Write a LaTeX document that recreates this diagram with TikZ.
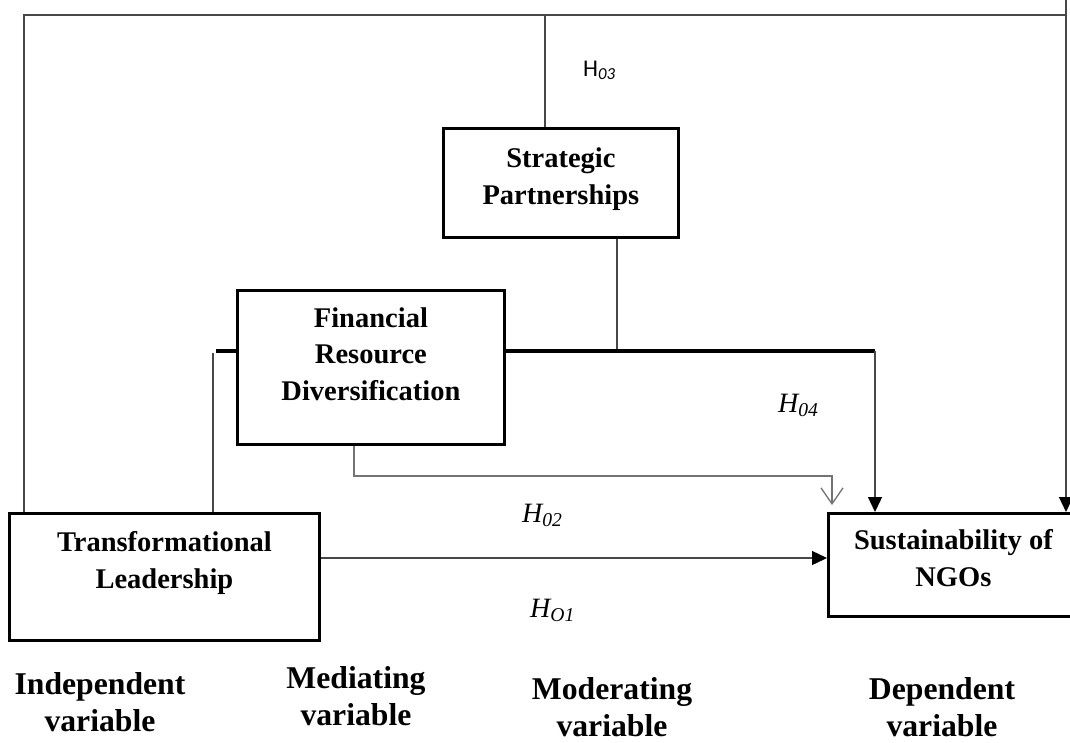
\documentclass[tikz,border=0pt]{standalone}
\usepackage{fontspec}
\setmainfont{Liberation Serif}
\newfontfamily\carlitofont{Carlito}
\usetikzlibrary{arrows.meta}
\tikzset{
  box/.style={draw=black, line width=2.8pt, inner sep=0pt, align=center, anchor=north west,
    font=\fontsize{28.5}{36.5}\selectfont\bfseries, text depth=10pt},
  thinline/.style={draw=black!72, line width=1.3pt},
  greyline/.style={draw=black!55, line width=1.3pt},
  thickline/.style={draw=black, line width=4pt},
  arr/.style={-{Triangle[length=15pt,width=14pt,color=black]}},
  openarr/.style={-{Straight Barb[length=16pt,width=22pt,line width=1.3pt]}},
  hlab/.style={anchor=base west, inner sep=0pt, font=\fontsize{28}{30}\selectfont\itshape},
  varlab/.style={anchor=base, inner sep=0pt, align=center, font=\fontsize{31.7}{36.5}\selectfont\bfseries}
}
\begin{document}
\begin{tikzpicture}[x=1pt,y=-1pt]
\useasboundingbox (0,0) rectangle (1070,742);
\fill[white] (0,0) rectangle (1070,742);

% boxes
\node[box, minimum width=310pt, minimum height=127pt, text height=33pt] (tl) at (8,512)
  {Transformational\\Leadership};
\node[box, minimum width=267pt, minimum height=154pt, text height=76pt] (frd) at (236,289)
  {Financial\\Resource\\Diversification};
\node[box, minimum width=235pt, minimum height=109pt, text height=53pt] (sp) at (442,127)
  {Strategic\\Partnerships};
\node[box, minimum width=250pt, minimum height=103pt, text height=53pt] (sust) at (827,512)
  {Sustainability of\\NGOs};

% coordinates
\coordinate (tr) at (1066,15);
\coordinate (trtop) at (1066,0);
\coordinate (tlstub) at (216,351);
\coordinate (jr) at (875,351);
\coordinate (jm) at (617,351);
\coordinate (frdturn) at (832,476);

% outer loop (H03)
\draw[thinline] (24,0 |- tl.north) |- (tr);
\draw[thinline, arr] (trtop) -- (tr |- sust.north);
\draw[thinline] (545,15) -- (545,0 |- sp.north);

% strategic partnerships down to moderating bar
\draw[thinline] (617,0 |- sp.south) -- (jm);

% thick bar
\draw[thickline] (tlstub) -- (frd.west |- tlstub);
\draw[thickline] (frd.east |- jr) -- (jr);
\draw[thinline, arr] (jr) -- (jr |- sust.north);

% TL up to bar
\draw[thinline] (213,0 |- tl.north) -- (213,353);

% FRD to sustainability (H02)
\draw[greyline, openarr] (354,0 |- frd.south) |- (frdturn) -- (832,505);

% TL to sustainability (H01)
\draw[thinline, arr] (tl.east |- 0,558) -- (sust.west |- 0,558);

% hypothesis labels
\node[anchor=base west, inner sep=0pt, font=\carlitofont\fontsize{24}{28}\selectfont] (h03) at (583,76)
  {H\textsubscript{\textit{03}}};
\node[hlab] (h04) at (778,412) {H\textsubscript{04}};
\node[hlab] (h02) at (522,522) {H\textsubscript{02}};
\node[hlab] (h01) at (530,617) {H\textsubscript{O1}};

% variable labels
\node[varlab] (indep) at (100,731) {Independent\\variable};
\node[varlab] (med) at (356,725) {Mediating\\variable};
\node[varlab] (mod) at (612,736) {Moderating\\variable};
\node[varlab] (dep) at (942,736) {Dependent\\variable};
\end{tikzpicture}
\end{document}
